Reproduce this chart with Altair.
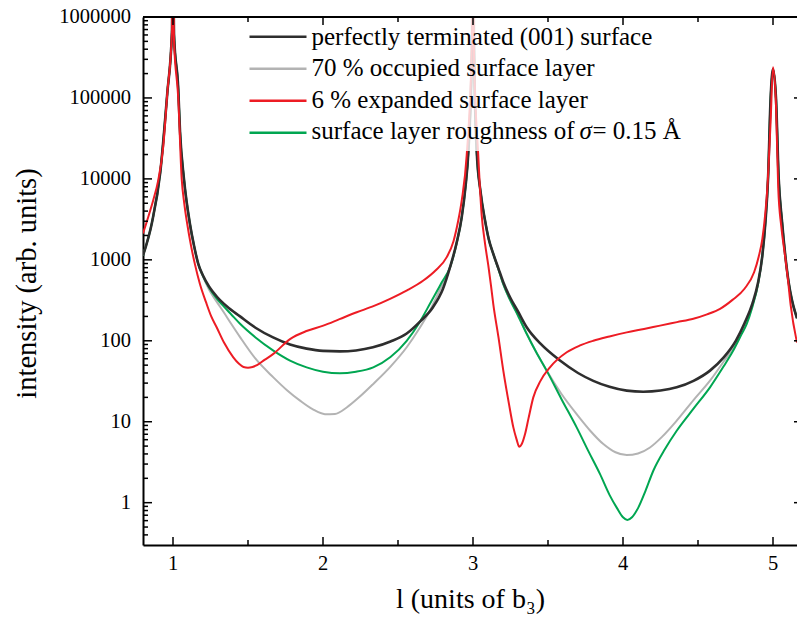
import altair as alt
import pandas as pd

SERIES = [
    "perfectly terminated (001) surface",
    "70 % occupied surface layer",
    "6 % expanded surface layer",
    "surface layer roughness of σ= 0.15 Å",
]
COLORS = ["#2e2e2e", "#b3b3b3", "#ed1c24", "#00a651"]
# the last legend label split so that σ can be italic, as in the reference
LAST_LABEL_PARTS = ["surface layer roughness of", "σ", "= 0.15 Å"]

# perfectly terminated (001) surface
BLACK_L = [0.800, 0.860, 0.915, 0.962, 0.993, 1.000, 1.007, 1.035, 1.047, 1.073, 1.113, 1.140,
           1.168, 1.200, 1.240, 1.293, 1.360, 1.447, 1.550, 1.667, 1.780, 1.891, 2.000, 2.113,
           2.220, 2.333, 2.450, 2.558, 2.650, 2.733, 2.800, 2.847, 2.890, 2.925, 2.950, 2.969,
           2.993, 3.000, 3.007, 3.025, 3.050, 3.080, 3.105, 3.135, 3.170, 3.202, 3.247, 3.300,
           3.358, 3.450, 3.580, 3.700, 3.802, 3.910, 4.025, 4.135, 4.250, 4.358, 4.470, 4.580,
           4.670, 4.752, 4.810, 4.862, 4.900, 4.929, 4.950, 4.967, 4.984, 5.000, 5.020, 5.038,
           5.060, 5.082, 5.105, 5.126, 5.160]
BLACK_I = [1130, 2900, 12000, 115000, 650000, 1e7, 600000, 130000, 38000, 10000, 2770, 1500,
           900, 640, 470, 350, 265, 200, 145, 110, 90, 80, 75, 74,
           76, 83, 98, 123, 175, 260, 440, 813, 1600, 3370, 8000, 21500,
           400000, 1e7, 400000, 21500, 7000, 3080, 1800, 1190, 780, 530, 345, 230,
           147, 92, 57, 40, 32, 27, 24.2, 23.5, 24.3, 26.6, 32, 42.8,
           62, 100, 165, 286, 520, 1130, 3000, 10100, 98600, 227000, 98600, 10100,
           3000, 1130, 520, 320, 190]

# 70 % occupied surface layer
GRAY_L = [0.800, 0.860, 0.915, 0.962, 0.993, 1.000, 1.007, 1.035, 1.047, 1.073, 1.113, 1.140,
          1.168, 1.200, 1.240, 1.293, 1.335, 1.390, 1.447, 1.550, 1.669, 1.760, 1.847, 1.930,
          2.013, 2.080, 2.158, 2.240, 2.335, 2.450, 2.558, 2.640, 2.713, 2.790, 2.847, 2.890,
          2.925, 2.950, 2.969, 2.993, 3.000, 3.007, 3.025, 3.050, 3.080, 3.105, 3.135, 3.170,
          3.202, 3.247, 3.300, 3.358, 3.420, 3.491, 3.590, 3.691, 3.780, 3.869, 3.950, 4.025,
          4.100, 4.180, 4.260, 4.358, 4.470, 4.580, 4.670, 4.735, 4.790, 4.825, 4.862, 4.900,
          4.929, 4.950, 4.967, 4.984, 5.000, 5.020, 5.038, 5.060, 5.082, 5.105, 5.126, 5.160]
GRAY_I = [1130, 2900, 12000, 115000, 650000, 1e7, 600000, 130000, 38000, 10000, 2770, 1500,
          890, 620, 430, 300, 230, 160, 111, 60, 35.3, 24.5, 18.2, 14.3,
          12.4, 12.5, 15.0, 20.0, 29.3, 48, 83.2, 140, 237, 470, 794, 1550,
          3370, 8000, 21500, 400000, 1e7, 400000, 21500, 7000, 3080, 1800, 1190, 760,
          500, 320, 205, 122, 73, 42.8, 22, 12.4, 7.8, 5.3, 4.2, 3.87,
          4.05, 4.81, 6.5, 10.3, 18.5, 32.1, 55, 83.2, 130, 178, 270, 500,
          1130, 3000, 10100, 98600, 227000, 98600, 10100, 3000, 1130, 520, 320, 190]

# 6 % expanded surface layer
RED_L = [0.800, 0.835, 0.870, 0.900, 0.935, 0.962, 0.993, 1.000, 1.007, 1.035, 1.058, 1.075,
         1.095, 1.120, 1.146, 1.180, 1.220, 1.255, 1.291, 1.340, 1.402, 1.440, 1.470, 1.500,
         1.530, 1.560, 1.610, 1.669, 1.780, 1.890, 2.002, 2.110, 2.225, 2.340, 2.447, 2.560,
         2.669, 2.750, 2.825, 2.870, 2.902, 2.925, 2.958, 2.993, 3.000, 3.007, 3.035, 3.058,
         3.080, 3.102, 3.120, 3.135, 3.170, 3.202, 3.240, 3.269, 3.290, 3.309, 3.325, 3.347,
         3.370, 3.402, 3.450, 3.513, 3.625, 3.710, 3.802, 3.910, 4.025, 4.140, 4.247, 4.360,
         4.469, 4.560, 4.647, 4.730, 4.810, 4.874, 4.905, 4.929, 4.950, 4.962, 4.984, 5.000,
         5.020, 5.035, 5.055, 5.080, 5.100, 5.118, 5.160]
RED_I = [2120, 3390, 5600, 9330, 25000, 115000, 650000, 1e7, 500000, 100000, 10000, 5000,
         2770, 1500, 885, 500, 300, 200, 147, 95, 62.5, 52, 47.5, 46.5,
         47.5, 50, 58, 68.9, 105, 132, 154, 185, 225, 270, 330, 420,
         556, 740, 1080, 1700, 3080, 5430, 19500, 500000, 1e7, 316000, 19500, 3550,
         1600, 853, 480, 286, 110, 42.8, 16.5, 8.51, 6.1, 4.9, 5.3, 7.05,
         11.0, 20.0, 32.0, 47.0, 72.1, 87, 100, 113, 127, 140, 154, 170,
         187, 212, 248, 320, 439, 703, 1100, 1820, 4000, 7590, 50600, 240000,
         80000, 7590, 2600, 1130, 560, 273, 95]

# surface layer roughness
GREEN_L = [0.800, 0.860, 0.915, 0.962, 0.993, 1.000, 1.007, 1.035, 1.047, 1.073, 1.113, 1.140,
           1.168, 1.200, 1.240, 1.293, 1.335, 1.390, 1.447, 1.550, 1.669, 1.780, 1.891, 2.000,
           2.113, 2.220, 2.335, 2.450, 2.558, 2.640, 2.713, 2.790, 2.847, 2.890, 2.925, 2.950,
           2.969, 2.993, 3.000, 3.007, 3.025, 3.050, 3.080, 3.105, 3.135, 3.170, 3.202, 3.247,
           3.300, 3.358, 3.420, 3.491, 3.590, 3.691, 3.770, 3.847, 3.910, 3.958, 4.000, 4.029,
           4.060, 4.102, 4.150, 4.202, 4.280, 4.358, 4.470, 4.580, 4.670, 4.735, 4.790, 4.825,
           4.862, 4.900, 4.929, 4.950, 4.967, 4.984, 5.000, 5.020, 5.038, 5.060, 5.082, 5.105,
           5.126, 5.160]
GREEN_I = [1130, 2900, 12000, 115000, 650000, 1e7, 600000, 130000, 38000, 10000, 2770, 1500,
           895, 635, 455, 330, 270, 210, 162, 110, 75.7, 57, 47.0, 41.5,
           39.6, 41.5, 47.0, 63, 100, 165, 286, 520, 813, 1580, 3370, 8000,
           21500, 400000, 1e7, 400000, 21500, 7000, 3080, 1800, 1190, 760, 500, 320,
           205, 122, 73, 42.8, 19, 8.51, 4.3, 2.25, 1.25, 0.869, 0.66, 0.612,
           0.66, 0.869, 1.4, 2.48, 4.6, 7.74, 14.5, 26.6, 48, 75.7, 120, 162,
           260, 500, 1130, 3000, 10100, 98600, 227000, 98600, 10100, 3000, 1130, 520,
           320, 190]

Y_MAJOR = [1, 10, 100, 1000, 10000, 100000, 1000000]
Y_MINOR = [0.4, 0.5, 0.6, 0.7, 0.8, 0.9] + [m * 10 ** e for e in range(0, 6) for m in range(2, 10)]
X_MAJOR = [1, 2, 3, 4, 5]
X_MINOR = [1.5, 2.5, 3.5, 4.5]

W, H = 654, 528
FONT = "Liberation Serif"
ROW0, ROWSTEP = 19.7, 31.5
TEXT_X = 168.5

rows = []
for name, xs, ys in [(SERIES[0], BLACK_L, BLACK_I), (SERIES[1], GRAY_L, GRAY_I),
                     (SERIES[2], RED_L, RED_I), (SERIES[3], GREEN_L, GREEN_I)]:
    for i, (a, b) in enumerate(zip(xs, ys)):
        rows.append({"series": name, "l": a, "I": b, "order": i})
df = pd.DataFrame(rows)

xscale = alt.Scale(domain=[0.8, 5.16], nice=False, zero=False)
yscale = alt.Scale(type="log", domain=[0.3, 1e6], nice=False)

xaxis = alt.Axis(values=X_MAJOR, labels=False, ticks=False, tickSize=0, grid=False,
                 domainWidth=2, domainColor="black",
                 title="l (units of b₃)", titleFont=FONT, titleFontSize=28,
                 titleFontWeight="normal", titleColor="black", titleY=62,
                 titleBaseline="alphabetic")
yaxis = alt.Axis(values=Y_MAJOR, labels=False, ticks=False, tickSize=0, grid=False,
                 domainWidth=2, domainColor="black",
                 title="intensity (arb. units)", titleFont=FONT, titleFontSize=28.5,
                 titleFontWeight="normal", titleColor="black", titleX=-117, titleY=266,
                 titleAngle=270, titleAlign="center", titleBaseline="middle")

legend = alt.Legend(title=None, orient="none", legendX=101, legendY=0, direction="vertical",
                    symbolType="stroke", symbolSize=3249, symbolStrokeWidth=2.5,
                    labelExpr="''", labelFontSize=1, labelOffset=0,
                    clipHeight=ROWSTEP, rowPadding=0, padding=4)

color = alt.Color("series:N", scale=alt.Scale(domain=SERIES, range=COLORS), legend=legend)


def line_layer(name, width):
    return alt.Chart(df).transform_filter(alt.datum.series == name).mark_line(
        clip=True, strokeWidth=width, interpolate="monotone"
    ).encode(
        x=alt.X("l:Q", scale=xscale, axis=xaxis),
        y=alt.Y("I:Q", scale=yscale, axis=yaxis),
        color=color,
        order="order:Q",
    )


lines = [line_layer(SERIES[1], 2), line_layer(SERIES[3], 2),
         line_layer(SERIES[0], 2.6), line_layer(SERIES[2], 2)]

ymaj = pd.DataFrame({"v": Y_MAJOR})
ymin = pd.DataFrame({"v": Y_MINOR})
xmaj = pd.DataFrame({"v": X_MAJOR})
xmin = pd.DataFrame({"v": X_MINOR})
one = pd.DataFrame({"k": [0]})

tick_style = dict(color="black", strokeWidth=1.5)
ticks = [
    alt.Chart(ymaj).mark_rule(**tick_style).encode(
        y=alt.Y("v:Q", scale=yscale, axis=yaxis), x=alt.value(0), x2=alt.value(9)),
    alt.Chart(ymin).mark_rule(**tick_style).encode(
        y=alt.Y("v:Q", scale=yscale, axis=yaxis), x=alt.value(0), x2=alt.value(5)),
    alt.Chart(ymaj).mark_rule(**tick_style).encode(
        y=alt.Y("v:Q", scale=yscale, axis=yaxis), x=alt.value(W - 3), x2=alt.value(W)),
    alt.Chart(xmaj).mark_rule(**tick_style).encode(
        x=alt.X("v:Q", scale=xscale, axis=xaxis), y=alt.value(H), y2=alt.value(H - 8)),
    alt.Chart(xmin).mark_rule(**tick_style).encode(
        x=alt.X("v:Q", scale=xscale, axis=xaxis), y=alt.value(H), y2=alt.value(H - 5)),
    alt.Chart(xmaj).mark_rule(**tick_style).encode(
        x=alt.X("v:Q", scale=xscale, axis=xaxis), y=alt.value(0), y2=alt.value(8)),
    alt.Chart(xmin).mark_rule(**tick_style).encode(
        x=alt.X("v:Q", scale=xscale, axis=xaxis), y=alt.value(0), y2=alt.value(5)),
    alt.Chart(one).mark_rule(color="black", strokeWidth=2).encode(
        x=alt.value(0), x2=alt.value(W + 10), y=alt.value(0)),
]

# tick labels drawn through the scales
tick_labels = [
    alt.Chart(ymaj).mark_text(align="right", baseline="middle", font=FONT, fontSize=20.5,
                              color="black").encode(
        y=alt.Y("v:Q", scale=yscale, axis=yaxis), x=alt.value(-12),
        text=alt.Text("v:Q", format="d")),
    alt.Chart(xmaj).mark_text(align="center", baseline="alphabetic", font=FONT, fontSize=20.5,
                              color="black").encode(
        x=alt.X("v:Q", scale=xscale, axis=xaxis), y=alt.value(H + 25),
        text=alt.Text("v:Q", format="d")),
]

# legend background and labels
legend_box = alt.Chart(one).mark_rect(color="white", opacity=0.8).encode(
    x=alt.value(101), x2=alt.value(562), y=alt.value(0), y2=alt.value(134))
text_style = dict(align="left", baseline="middle", font=FONT, fontSize=25, color="black")
legend_labels = [
    alt.Chart(one).mark_text(text=name, **text_style).encode(
        x=alt.value(TEXT_X), y=alt.value(ROW0 + ROWSTEP * i))
    for i, name in enumerate(SERIES[:3])
]
y_last = ROW0 + ROWSTEP * 3
legend_labels += [
    alt.Chart(one).mark_text(text=LAST_LABEL_PARTS[0], **text_style).encode(
        x=alt.value(TEXT_X), y=alt.value(y_last)),
    alt.Chart(one).mark_text(text=LAST_LABEL_PARTS[1], fontStyle="italic", **text_style).encode(
        x=alt.value(TEXT_X + 268), y=alt.value(y_last)),
    alt.Chart(one).mark_text(text=LAST_LABEL_PARTS[2], **text_style).encode(
        x=alt.value(TEXT_X + 281), y=alt.value(y_last)),
]

chart = alt.layer(*lines, legend_box, *legend_labels, *ticks, *tick_labels).properties(
    width=W, height=H,
    padding={"left": 143, "top": 17, "right": 0, "bottom": 74},
    autosize=alt.AutoSizeParams(type="none"),
    background="white",
).configure(font=FONT).configure_view(stroke="transparent")

chart.save("out.html", embed_options={"renderer": "svg", "actions": False})
